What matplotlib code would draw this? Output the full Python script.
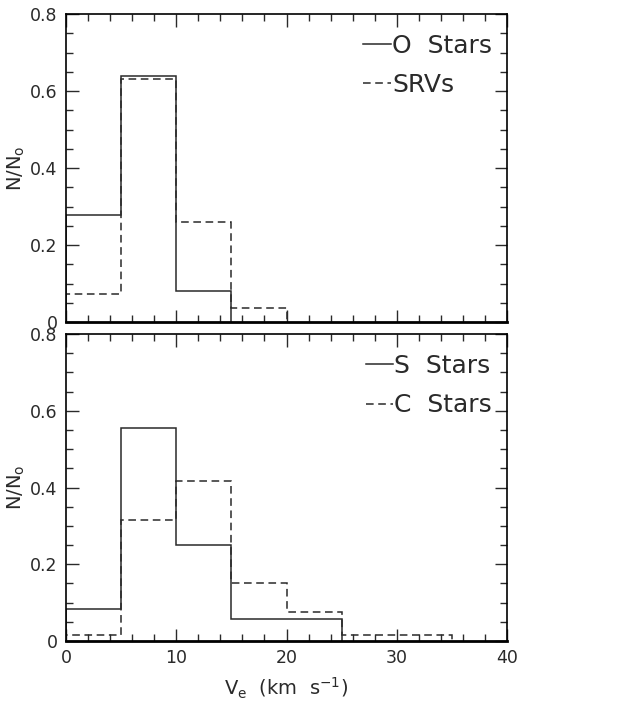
import numpy as np
import matplotlib
matplotlib.use("Agg")
from matplotlib import pyplot as plt
from matplotlib.ticker import MultipleLocator

# velocity bins (km/s) and normalised fractions N/No
edges = [0, 5, 10, 15, 20, 25, 30, 35]

o_stars = [0.278, 0.638, 0.082]
srvs = [0.074, 0.631, 0.259, 0.038]
s_stars = [0.084, 0.556, 0.250, 0.057, 0.057]
c_stars = [0.016, 0.315, 0.418, 0.150, 0.075, 0.016, 0.016]

plt.rcParams['font.family'] = ['DejaVu Sans']
plt.rcParams['mathtext.fontset'] = 'dejavusans'
ink = '#2a2a2a'

fig = plt.figure(figsize=(6.41, 7.02), dpi=100)
ax1 = fig.add_axes([0.103, 0.541, 0.688, 0.439])
ax2 = fig.add_axes([0.103, 0.087, 0.688, 0.437])

dash = (0, (5, 3))

def setup(ax):
    ax.set_xlim(0, 40)
    ax.set_ylim(0, 0.8)
    ax.xaxis.set_major_locator(MultipleLocator(10))
    ax.xaxis.set_minor_locator(MultipleLocator(2))
    ax.yaxis.set_minor_locator(MultipleLocator(0.05))
    ax.tick_params(which='both', direction='in', top=True, right=True,
                   labelsize=12.5, colors=ink, pad=6)
    ax.tick_params(which='major', length=9, width=1)
    ax.tick_params(which='minor', length=5, width=1)
    ax.set_yticks([0, 0.2, 0.4, 0.6, 0.8])
    ax.set_yticklabels(['0', '0.2', '0.4', '0.6', '0.8'])
    for s in ax.spines.values():
        s.set_linewidth(1.2)
    ax.spines['bottom'].set_linewidth(2)
    ax.set_ylabel(r'N/N$_\mathrm{o}$', fontsize=14, color=ink, labelpad=2)

setup(ax1)
ax1.stairs(o_stars, edges[:len(o_stars) + 1], color=ink, lw=1.1, label='O  Stars')
ax1.stairs(srvs, edges[:len(srvs) + 1], color=ink, lw=1.1, ls=dash, label='SRVs')
ax1.tick_params(labelbottom=False)

setup(ax2)
ax2.stairs(s_stars, edges[:len(s_stars) + 1], color=ink, lw=1.1, label='S  Stars')
ax2.stairs(c_stars, edges[:len(c_stars) + 1], color=ink, lw=1.1, ls=dash, label='C  Stars')
ax2.set_xlabel(r'V$_\mathrm{e}$  (km  s$^{-1}$)', fontsize=14, color=ink, labelpad=6)

for ax in (ax1, ax2):
    h, l = ax.get_legend_handles_labels()
    h = [plt.Line2D([], [], color=ink, lw=1.1, ls=x.get_linestyle()) for x in h]
    ax.legend(h, l, loc='upper right', bbox_to_anchor=(1.0, 0.985), frameon=False,
              fontsize=18, handlelength=1.1, handletextpad=0.05, labelspacing=0.62,
              labelcolor=ink, borderaxespad=0.2)

fig.savefig('out.png', dpi=100)
